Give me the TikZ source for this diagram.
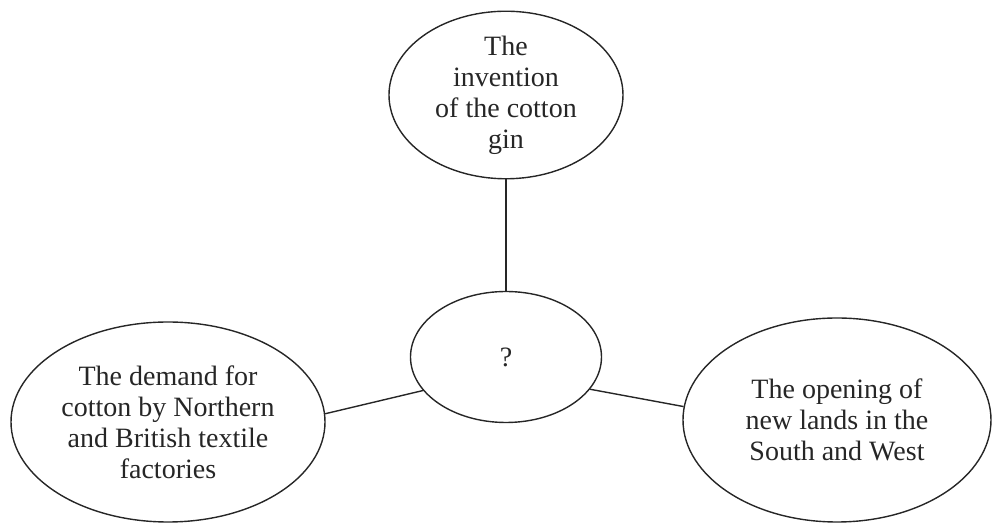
\documentclass[tikz,border=0pt]{standalone}
\usepackage{fontspec}
\setmainfont{Liberation Serif}
\usetikzlibrary{shapes.geometric}
\begin{document}
\begin{tikzpicture}[x=0.5pt,y=-0.5pt,
  bubble/.style={draw=black!85, line width=0.7pt, ellipse, inner sep=0pt,
    align=center, font=\fontsize{14}{15.5}\selectfont, text=black!85},
  link/.style={draw=black!85, line width=0.7pt}]
\useasboundingbox (0,0) rectangle (993,523);
\node[bubble, minimum width=117pt, minimum height=82pt] (top) at (506,95)
  {The\\invention\\of the cotton\\gin};
\node[bubble, minimum width=95.5pt, minimum height=65.5pt] (mid) at (506,357) {?};
\node[bubble, minimum width=157pt, minimum height=100pt] (left) at (168,422)
  {\raisebox{-3pt}{}The demand for\\cotton by Northern\\and British textile\\factories};
\node[bubble, minimum width=154pt, minimum height=102pt] (right) at (837,420)
  {The opening of\\new lands in the\\South and West};
\draw[link] (top.south) -- (mid.north);
\draw[link] (mid.202.6) -- (left.3.6);
\draw[link] (mid.339.4) -- (right.175.5);
\end{tikzpicture}
\end{document}
